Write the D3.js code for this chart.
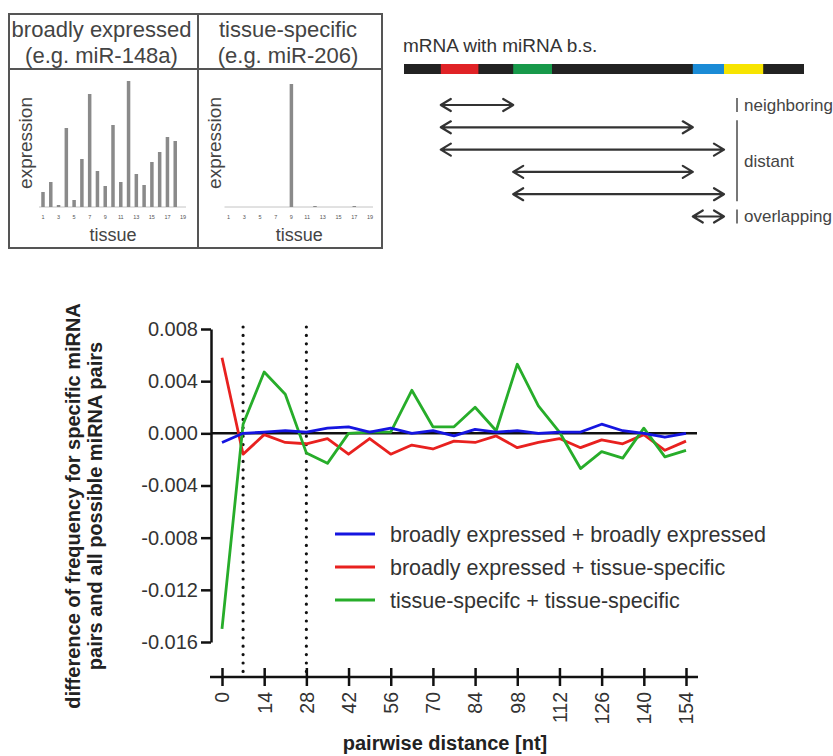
<!DOCTYPE html>
<html lang="en">
<head>
  <meta charset="UTF-8">
  <title>miRNA pairs</title>
  <script src="https://d3js.org/d3.v7.min.js"></script>
  <style>
    body { margin: 0; background: #fff; }
    svg { display: block; font-family: "Liberation Sans", Arial, sans-serif; }
  </style>
</head>
<body>
<svg width="833" height="756"></svg>
<script>
  // expression profiles (top left)
  const tissues = [1, 2, 3, 4, 5, 6, 7, 8, 9, 10, 11, 12, 13, 14, 15, 16, 17, 18, 19]
  const tissueTicks = [1, 3, 5, 7, 9, 11, 13, 15, 17, 19]
  const broadExpr = [15, 25, 2, 79, 7, 48, 113, 36, 21, 82, 25, 126, 33, 22, 45, 55, 70, 66, 0]
  const specificExpr = [0, 0, 0, 0, 0, 0, 0, 0, 123, 0, 0, 1, 0, 0, 0, 0, 1, 0, 0]

  // mRNA sketch (top right), positions in % of mRNA length
  const siteStart = [9.2, 27.3, 72.2, 80]
  const siteEnd = [18.6, 37, 80, 89.8]
  const sitePairs = [[0, 1], [0, 2], [0, 3], [1, 2], [1, 3], [2, 3]]
  const pairGroups = [["neighboring", 0, 0], ["distant", 1, 4], ["overlapping", 5, 5]]

  // main chart
  const distances = [0, 7, 14, 21, 28, 35, 42, 49, 56, 63, 70, 77, 84, 91, 98, 105, 112, 119, 126, 133, 140, 147, 154]
  const bbDiff = [-0.0007, 0.0000, 0.0001, 0.0002, 0.0001, 0.0004, 0.0005, 0.0001, 0.0004, 0.0000, 0.0002, -0.0002,
    0.0003, 0.0001, 0.0002, 0.0000, 0.0001, 0.0001, 0.0007, 0.0002, 0.0000, -0.0003, 0.0000]
  const btDiff = [0.0058, -0.0016, -0.0001, -0.0007, -0.0008, -0.0004, -0.0016, -0.0004, -0.0016, -0.0009, -0.0012, -0.0006,
    -0.0007, -0.0002, -0.0011, -0.0007, -0.0004, -0.0011, -0.0005, -0.0008, -0.0001, -0.0013, -0.0006]
  const ttDiff = [-0.0150, 0.0007, 0.0047, 0.0030, -0.0015, -0.0023, 0.0000, 0.0001, 0.0001, 0.0033, 0.0005, 0.0005,
    0.0020, 0.0002, 0.0053, 0.0021, 0.0001, -0.0027, -0.0014, -0.0019, 0.0004, -0.0018, -0.0013]
  const seriesNames = ["broadly expressed + broadly expressed", "broadly expressed + tissue-specific", "tissue-specifc + tissue-specific"]
  const yTicks = [0.008, 0.004, 0, -0.004, -0.008, -0.012, -0.016]
  const xTicks = [0, 14, 28, 42, 56, 70, 84, 98, 112, 126, 140, 154]
  const boundaries = [7, 28]

  const svg = d3.select("svg")
  const font = "'Liberation Sans', Arial, sans-serif"

  // ---------- expression panels ----------
  const box = svg.append("g").attr("fill", "none").attr("stroke", "#555").attr("stroke-width", 2)
  box.append("rect").attr("x", 9).attr("y", 14).attr("width", 373).attr("height", 234)
  box.append("line").attr("x1", 9).attr("x2", 382).attr("y1", 69).attr("y2", 69)
  box.append("line").attr("x1", 198).attr("x2", 198).attr("y1", 14).attr("y2", 248)

  const yExpr = d3.scaleLinear().domain([0, 130]).range([207, 77])
  const panels = [
    { title: ["broadly expressed", "(e.g. miR-148a)"], values: broadExpr, x0: 9, x1: 198, range: [43, 183] },
    { title: ["tissue-specific", "(e.g. miR-206)"], values: specificExpr, x0: 198, x1: 382, range: [228.5, 370] }
  ]
  panels.forEach(p => {
    const g = svg.append("g")
    const cx = (p.x0 + p.x1) / 2 - 2
    g.selectAll(".head").data(p.title).join("text")
      .attr("x", cx).attr("y", (d, i) => 37 + i * 26)
      .attr("text-anchor", "middle").attr("font-size", 22).attr("fill", "#444")
      .text(d => d)

    const xs = d3.scaleLinear().domain([1, 19]).range(p.range)
    g.append("line").attr("x1", p.range[0] - 4).attr("x2", p.range[1] + 3)
      .attr("y1", yExpr(0)).attr("y2", yExpr(0)).attr("stroke", "#c4c4c4").attr("stroke-width", 1)
    g.selectAll("rect").data(p.values).join("rect")
      .attr("x", (d, i) => xs(tissues[i]) - 1.75).attr("width", 3.5)
      .attr("y", d => yExpr(d)).attr("height", d => yExpr(0) - yExpr(d))
      .attr("fill", "#8a8a8a")
    g.selectAll(".tk").data(tissueTicks).join("text")
      .attr("x", d => xs(d)).attr("y", 219)
      .attr("text-anchor", "middle").attr("font-size", 5.5).attr("fill", "#555")
      .text(d => d)
    g.append("text").attr("x", (p.range[0] + p.range[1]) / 2).attr("y", 241)
      .attr("text-anchor", "middle").attr("font-size", 18).attr("fill", "#444").text("tissue")
    g.append("text").attr("transform", `translate(${p.x0 + 23},143) rotate(-90)`)
      .attr("text-anchor", "middle").attr("font-size", 19).attr("fill", "#444").text("expression")
  })

  // ---------- mRNA sketch ----------
  const xm = d3.scaleLinear().domain([0, 100]).range([404, 804])
  const siteColors = ["#e02226", "#17994a", "#1a8bd6", "#f7e400"]
  const mrna = svg.append("g")
  mrna.append("text").attr("x", 403).attr("y", 52).attr("font-size", 19).attr("fill", "#333")
    .text("mRNA with miRNA b.s.")
  mrna.append("rect").attr("x", xm(0)).attr("y", 64).attr("width", xm(100) - xm(0)).attr("height", 10).attr("fill", "#222")
  mrna.selectAll(".site").data(siteStart).join("rect")
    .attr("x", d => xm(d)).attr("y", 64)
    .attr("width", (d, i) => xm(siteEnd[i]) - xm(d)).attr("height", 10)
    .attr("fill", (d, i) => siteColors[i])

  const rowY = d3.scalePoint().domain(d3.range(sitePairs.length)).range([105, 216.5])
  const arrows = mrna.append("g").attr("fill", "none").attr("stroke", "#333").attr("stroke-width", 2.2)
    .attr("stroke-linejoin", "round").attr("stroke-linecap", "round")
  sitePairs.forEach((pr, i) => {
    const a = xm(siteStart[pr[0]]), b = xm(siteStart[pr[1]]), yy = rowY(i)
    arrows.append("path").attr("d",
      `M${a},${yy}H${b}` +
      `M${a + 10},${yy - 6}L${a},${yy}L${a + 10},${yy + 6}` +
      `M${b - 10},${yy - 6}L${b},${yy}L${b - 10},${yy + 6}`)
  })
  pairGroups.forEach(gr => {
    const top = rowY(gr[1]) - 7, bot = rowY(gr[2]) + 7
    mrna.append("line").attr("x1", 737).attr("x2", 737).attr("y1", top).attr("y2", bot)
      .attr("stroke", "#777").attr("stroke-width", 2)
    mrna.append("text").attr("x", 744).attr("y", (top + bot) / 2).attr("dy", "0.35em")
      .attr("font-size", 17).attr("fill", "#444").text(gr[0])
  })

  // ---------- main chart ----------
  const x = d3.scaleLinear().domain([0, 154]).range([222, 686])
  const y = d3.scaleLinear().domain([-0.016, 0.008]).range([642, 329])
  const plot = svg.append("g")

  plot.selectAll(".bound").data(boundaries).join("line")
    .attr("x1", d => x(d)).attr("x2", d => x(d)).attr("y1", 327).attr("y2", 674)
    .attr("stroke", "#111").attr("stroke-width", 3.2).attr("stroke-linecap", "round")
    .attr("stroke-dasharray", "0,8.4")

  plot.append("line").attr("x1", 211).attr("x2", 697).attr("y1", y(0)).attr("y2", y(0))
    .attr("stroke", "#111").attr("stroke-width", 2.5)

  const series = [
    { values: btDiff, color: "#e8211f" },
    { values: ttDiff, color: "#27ad2a" },
    { values: bbDiff, color: "#1515e0" }
  ]
  const line = d3.line().x((d, i) => x(distances[i])).y(d => y(d))
  series.forEach(s => {
    plot.append("path").datum(s.values).attr("d", line)
      .attr("fill", "none").attr("stroke", s.color).attr("stroke-width", 2.8).attr("stroke-linejoin", "round")
  })

  const yAxis = plot.append("g").attr("transform", "translate(211,0)")
    .call(d3.axisLeft(y).tickValues(yTicks).tickFormat(d => d.toFixed(3)).tickSize(10).tickSizeOuter(0).tickPadding(3))
  yAxis.attr("font-size", 20).attr("font-family", font)
  yAxis.select(".domain").attr("stroke", "#111").attr("stroke-width", 2.5)
  yAxis.selectAll(".tick line").attr("stroke", "#111").attr("stroke-width", 2.5)
  yAxis.selectAll(".tick text").attr("fill", "#333")

  const xAxis = plot.append("g").attr("transform", "translate(0,677)")
    .call(d3.axisBottom(x).tickValues(xTicks).tickSize(9).tickSizeOuter(0))
  xAxis.attr("font-size", 19.5).attr("font-family", font)
  xAxis.select(".domain").remove()
  xAxis.append("line").attr("x1", x(0) - 12).attr("x2", x(154) + 12)
    .attr("stroke", "#111").attr("stroke-width", 2.5)
  xAxis.selectAll(".tick line").attr("y1", -9).attr("y2", 9).attr("stroke", "#111").attr("stroke-width", 2.5)
  xAxis.selectAll(".tick text").attr("transform", "rotate(-90)").attr("text-anchor", "end")
    .attr("x", -15).attr("y", 0).attr("dy", "0.35em").attr("fill", "#333")

  plot.append("text").attr("x", 445).attr("y", 750).attr("text-anchor", "middle")
    .attr("font-size", 20).attr("font-weight", "bold").attr("fill", "#222").text("pairwise distance [nt]")
  const yTitle = plot.append("g").attr("transform", "translate(0,506) rotate(-90)")
  yTitle.selectAll("text").data(["difference of frequency for specific miRNA", "pairs and all possible miRNA pairs"])
    .join("text").attr("x", 0).attr("y", (d, i) => 80 + i * 22)
    .attr("text-anchor", "middle").attr("font-size", 20).attr("font-weight", "bold").attr("fill", "#222")
    .text(d => d)

  // legend
  const legend = plot.append("g")
  const legendColors = ["#1515e0", "#e8211f", "#27ad2a"]
  seriesNames.forEach((name, i) => {
    const ly = 534 + i * 33
    legend.append("line").attr("x1", 335).attr("x2", 375).attr("y1", ly).attr("y2", ly)
      .attr("stroke", legendColors[i]).attr("stroke-width", 3)
    legend.append("text").attr("x", 390).attr("y", ly).attr("dy", "0.35em")
      .attr("font-size", 21.5).attr("fill", "#333").text(name)
  })
</script>
</body>
</html>
